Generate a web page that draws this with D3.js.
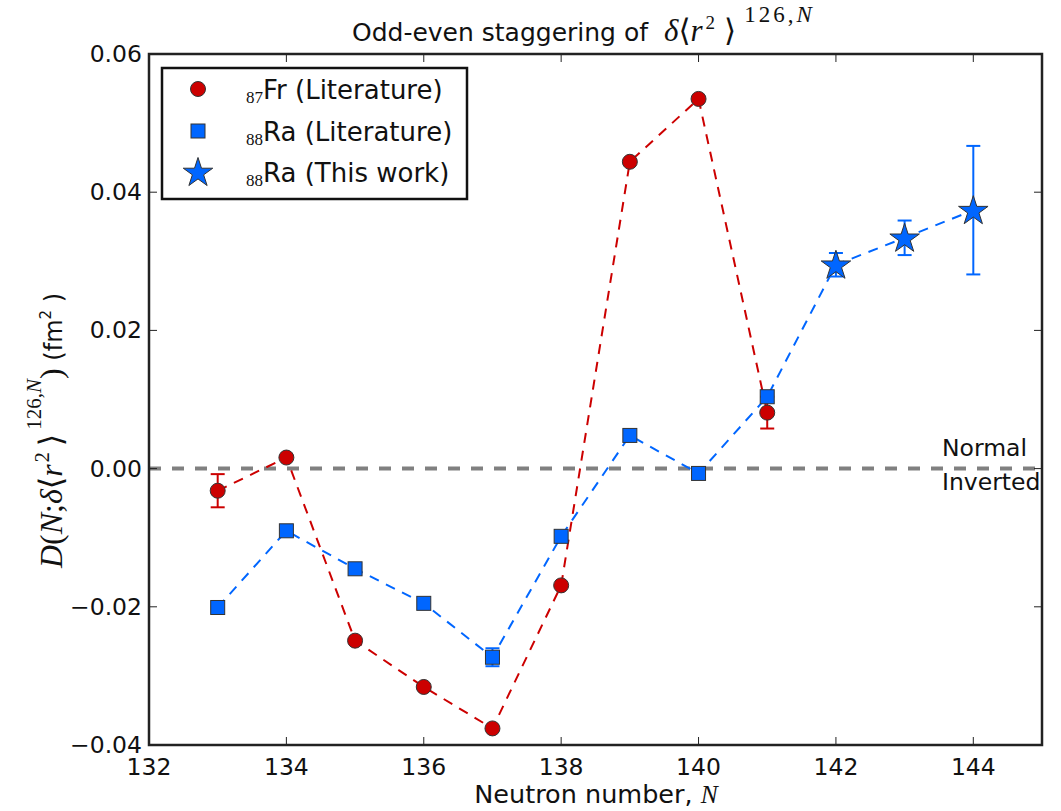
<!DOCTYPE html>
<html><head><meta charset="utf-8">
<script src="https://cdn.jsdelivr.net/npm/d3@7"></script>
<style>body{margin:0;background:#fff}svg{display:block}</style>
</head><body><svg id="c" width="1061" height="811"></svg>
<script>
const xTicks = [132,134,136,138,140,142,144];
const yTicks = [-0.04,-0.02,0.00,0.02,0.04,0.06];
const yTickLabels = ["\u22120.04","\u22120.02","0.00","0.02","0.04","0.06"];
const frN   = [133,134,135,136,137,138,139,140,141];
const frVal = [-0.0032,0.0016,-0.0249,-0.0316,-0.0376,-0.0169,0.0444,0.0535,0.0081];
const frErr = [0.0024,0,0,0,0,0,0,0,0.0023];
const raN   = [133,134,135,136,137,138,139,140,141];
const raVal = [-0.0201,-0.0090,-0.0145,-0.0195,-0.0273,-0.0098,0.0048,-0.0007,0.0104];
const raErr = [0,0,0,0,0.0013,0,0,0,0];
const twN   = [142,143,144];
const twVal = [0.0295,0.0334,0.0374];
const twErr = [0.0017,0.0025,0.0093];

const svg = d3.select("#c");
const L=149, R=1042, T=54, B=745;
const x = d3.scaleLinear().domain([132,145]).range([L,R]);
const y = d3.scaleLinear().domain([-0.04,0.06]).range([B,T]);
const red="#cc0000", blue="#0066ff", edge="#333";
const font="DejaVu Sans", mfont="Liberation Serif";

// zero line
svg.append("line").attr("x1",L).attr("x2",R).attr("y1",y(0)).attr("y2",y(0))
  .attr("stroke","#808080").attr("stroke-width",4).attr("stroke-dasharray","12,11");

// connecting lines
const line = d3.line().x(d=>x(d[0])).y(d=>y(d[1]));
svg.append("path").attr("d",line(frN.map((n,i)=>[n,frVal[i]]))).attr("fill","none")
  .attr("stroke",red).attr("stroke-width",2).attr("stroke-dasharray","10,8");
const raAll = raN.map((n,i)=>[n,raVal[i]]).concat(twN.map((n,i)=>[n,twVal[i]]));
svg.append("path").attr("d",line(raAll)).attr("fill","none")
  .attr("stroke",blue).attr("stroke-width",2).attr("stroke-dasharray","10,8");

function errs(N,V,E,col){
  const g=svg.append("g").attr("stroke",col).attr("stroke-width",2);
  N.forEach((n,i)=>{ if(!E[i]) return;
    const cx=x(n), y1=y(V[i]-E[i]), y2=y(V[i]+E[i]);
    g.append("line").attr("x1",cx).attr("x2",cx).attr("y1",y1).attr("y2",y2);
    g.append("line").attr("x1",cx-7).attr("x2",cx+7).attr("y1",y1).attr("y2",y1);
    g.append("line").attr("x1",cx-7).attr("x2",cx+7).attr("y1",y2).attr("y2",y2);
  });
}
errs(frN,frVal,frErr,red);
errs(raN,raVal,raErr,blue);
errs(twN,twVal,twErr,blue);

const star = d3.symbol().type(d3.symbolStar).size(270);
// markers
svg.append("g").selectAll("circle").data(frN).join("circle")
  .attr("cx",d=>x(d)).attr("cy",(d,i)=>y(frVal[i])).attr("r",7.5)
  .attr("fill",red).attr("stroke",edge).attr("stroke-width",1);
svg.append("g").selectAll("rect").data(raN).join("rect")
  .attr("x",d=>x(d)-7).attr("y",(d,i)=>y(raVal[i])-7).attr("width",14).attr("height",14)
  .attr("fill",blue).attr("stroke",edge).attr("stroke-width",1);
svg.append("g").selectAll("path").data(twN).join("path")
  .attr("d",star).attr("transform",(d,i)=>`translate(${x(d)},${y(twVal[i])+1})`)
  .attr("fill",blue).attr("stroke",edge).attr("stroke-width",1);

// axes
const ax = svg.append("g").attr("font-family",font).attr("font-size",23.5).attr("fill","#111");
const tk = svg.append("g").attr("stroke","#222").attr("stroke-width",1);
xTicks.forEach(t=>{
  tk.append("line").attr("x1",x(t)).attr("x2",x(t)).attr("y1",B).attr("y2",B-8);
  tk.append("line").attr("x1",x(t)).attr("x2",x(t)).attr("y1",T).attr("y2",T+8);
  ax.append("text").attr("x",x(t)).attr("y",B+30).attr("text-anchor","middle").text(t);
});
yTicks.forEach((t,i)=>{
  tk.append("line").attr("x1",L).attr("x2",L+8).attr("y1",y(t)).attr("y2",y(t));
  tk.append("line").attr("x1",R).attr("x2",R-8).attr("y1",y(t)).attr("y2",y(t));
  ax.append("text").attr("x",L-7).attr("y",y(t)+8).attr("text-anchor","end").text(yTickLabels[i]);
});
svg.append("rect").attr("x",L).attr("y",T).attr("width",R-L).attr("height",B-T)
  .attr("fill","none").attr("stroke","#222").attr("stroke-width",2.5);

// Normal / Inverted
ax.append("text").attr("x",942).attr("y",456).text("Normal");
ax.append("text").attr("x",942).attr("y",490).text("Inverted");

// title
const tg = svg.append("g").attr("fill","#111");
tg.append("text").attr("x",352).attr("y",41).attr("font-family",font).attr("font-size",25)
  .text("Odd-even staggering of");
const tm = tg.append("text").attr("x",664).attr("y",41).attr("font-family",mfont).attr("font-size",31);
tm.append("tspan").attr("font-style","italic").text("\u03b4");
tm.append("tspan").attr("font-family","DejaVu Serif").text("\u27e8");
tm.append("tspan").attr("font-style","italic").text("r");
tm.append("tspan").attr("font-size",19).attr("dy",-12).attr("dx",3).text("2");
tm.append("tspan").attr("font-family","DejaVu Serif").attr("dy",12).attr("dx",9).text("\u27e9");
tm.append("tspan").attr("font-size",23).attr("dy",-19).attr("dx",8).attr("letter-spacing",3).text("126,");
tm.append("tspan").attr("font-size",23).attr("font-style","italic").text("N");

// x label
const xl = svg.append("text").attr("x",596).attr("y",803).attr("text-anchor","middle")
  .attr("font-family",font).attr("font-size",25.5).attr("fill","#111");
xl.append("tspan").text("Neutron number, ");
xl.append("tspan").attr("font-family",mfont).attr("font-style","italic").text("N");

// y label
const yl = svg.append("text").attr("transform","translate(62,568) rotate(-90)").attr("text-anchor","start")
  .attr("font-family",mfont).attr("font-size",32).attr("fill","#111");
yl.append("tspan").attr("font-style","italic").text("D");
yl.append("tspan").text("(");
yl.append("tspan").attr("font-style","italic").text("N");
yl.append("tspan").text(";");
yl.append("tspan").attr("font-style","italic").text("\u03b4");
yl.append("tspan").attr("font-family","DejaVu Serif").text("\u27e8");
yl.append("tspan").attr("font-style","italic").text("r");
yl.append("tspan").attr("font-size",20).attr("dy",-13).attr("dx",2).text("2");
yl.append("tspan").attr("font-family","DejaVu Serif").attr("dy",13).attr("dx",6).text("\u27e9");
yl.append("tspan").attr("font-size",21).attr("dy",-21).attr("dx",4).text("126,");
yl.append("tspan").attr("font-style","italic").attr("font-size",21).text("N");
yl.append("tspan").attr("dy",21).text(")");
yl.append("tspan").attr("font-family",font).attr("font-size",24).text(" (fm");
yl.append("tspan").attr("font-family",font).attr("font-size",15).attr("dy",-11).text("2");
yl.append("tspan").attr("font-family",font).attr("font-size",24).attr("dy",11).text(" )");

// legend
const lg = svg.append("g");
lg.append("rect").attr("x",162).attr("y",68).attr("width",305).attr("height",131)
  .attr("fill","#fff").attr("stroke","#111").attr("stroke-width",2.5);
const rows=[89,131,172];
const names=[["87","Fr (Literature)"],["88","Ra (Literature)"],["88","Ra (This work)"]];
lg.append("circle").attr("cx",198).attr("cy",rows[0]).attr("r",7.5).attr("fill",red).attr("stroke",edge);
lg.append("rect").attr("x",198-7).attr("y",rows[1]-7).attr("width",14).attr("height",14).attr("fill",blue).attr("stroke",edge);
lg.append("path").attr("d",star).attr("transform",`translate(198,${rows[2]+1})`).attr("fill",blue).attr("stroke",edge);
names.forEach((nm,i)=>{
  const t=lg.append("text").attr("x",246).attr("y",rows[i]+14).attr("font-family",font).attr("font-size",26).attr("fill","#111");
  t.append("tspan").attr("font-family",mfont).attr("font-size",17).text(nm[0]);
  t.append("tspan").attr("dy",-4).text(nm[1]);
});
</script></body></html>
